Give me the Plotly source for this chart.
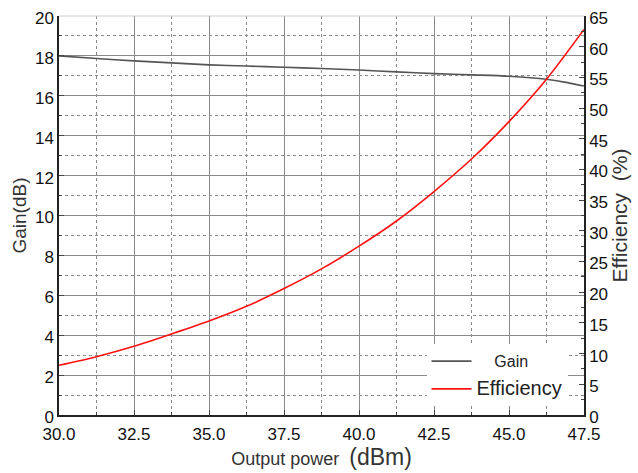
import plotly.graph_objects as go

output_power = [30.0, 31.25, 32.5, 33.75, 35.0, 36.25, 37.5, 38.75, 40.0, 41.25, 42.5, 43.75, 45.0, 46.25, 46.8, 47.5]
gain_db = [18.0, 17.87, 17.75, 17.65, 17.55, 17.49, 17.43, 17.37, 17.29, 17.2, 17.11, 17.05, 16.98, 16.83, 16.7, 16.49]

eff_power = [30.0, 31.25, 32.5, 33.75, 35.0, 36.25, 37.5, 38.75, 40.0, 41.25, 42.5, 43.75, 45.0, 46.25, 47.5]
efficiency_pct = [8.1, 9.5, 11.2, 13.2, 15.3, 17.7, 20.6, 23.8, 27.5, 31.6, 36.4, 41.7, 47.8, 54.7, 62.8]

x_ticks = [30.0, 32.5, 35.0, 37.5, 40.0, 42.5, 45.0, 47.5]
x_tick_labels = ["30.0", "32.5", "35.0", "37.5", "40.0", "42.5", "45.0", "47.5"]

FONT = "Liberation Sans"

fig = go.Figure()
fig.add_trace(go.Scatter(
    x=output_power, y=gain_db, mode="lines",
    name="&nbsp;&nbsp;&nbsp;&nbsp;Gain", legendgroup="gain",
    line=dict(color="#555555", width=1.6, shape="spline", smoothing=0.8),
))
fig.add_trace(go.Scatter(
    x=eff_power, y=efficiency_pct, mode="lines",
    name='<span style="font-size:20px">Efficiency</span>', legendgroup="eff",
    line=dict(color="#ff1010", width=1.6, shape="spline", smoothing=0.8),
    yaxis="y2",
))

fig.update_layout(
    width=638, height=473,
    margin=dict(l=59, r=54, t=16, b=58, autoexpand=False),
    paper_bgcolor="white", plot_bgcolor="white",
    font=dict(family=FONT, size=15, color="#111111"),
    showlegend=True,
    legend=dict(
        x=0.70, y=0.022, xanchor="left", yanchor="bottom",
        bgcolor="white", borderwidth=0,
        font=dict(family=FONT, size=16, color="#222222"),
        itemwidth=40, tracegroupgap=4,
    ),
    xaxis=dict(
        range=[30, 47.5], tickvals=x_ticks, ticktext=x_tick_labels,
        automargin=False,
        showline=True, linecolor="#222222", linewidth=1.5, mirror=False,
        ticks="inside", ticklen=5, tickcolor="#444444",
        ticklabelstandoff=3,
        showgrid=True, gridcolor="#8a8a8a", gridwidth=1,
        minor=dict(dtick=1.25, showgrid=True, gridcolor="#8a8a8a",
                   griddash="dot", gridwidth=1, ticks="inside", ticklen=3, tickcolor="#444444"),
        zeroline=False,
        tickfont=dict(family=FONT, size=17, color="#111111"),
        title=dict(text='Output power  <span style="font-size:23px">(dBm)</span>',
                   font=dict(family=FONT, size=18, color="#333333"), standoff=3),
    ),
    yaxis=dict(
        range=[0, 20], dtick=2,
        automargin=False,
        showline=True, linecolor="#222222", linewidth=1.5,
        ticks="inside", ticklen=5, tickcolor="#444444",
        ticklabelshift=2,
        showgrid=True, gridcolor="#8a8a8a", gridwidth=1,
        minor=dict(dtick=1, showgrid=True, gridcolor="#8a8a8a",
                   griddash="dot", gridwidth=1, ticks="inside", ticklen=3, tickcolor="#444444"),
        zeroline=False,
        tickfont=dict(family=FONT, size=17, color="#111111"),
        title=dict(text="Gain(dB)", font=dict(family=FONT, size=19, color="#333333"), standoff=3),
    ),
    yaxis2=dict(
        range=[0, 65], dtick=5, overlaying="y", side="right",
        automargin=False,
        showline=True, linecolor="#222222", linewidth=1.5,
        ticks="inside", ticklen=5, tickcolor="#444444",
        ticklabelshift=2,
        minor=dict(dtick=2.5, ticks="inside", ticklen=3, tickcolor="#444444"),
        showgrid=False, zeroline=False,
        tickfont=dict(family=FONT, size=17, color="#111111"),
        title=dict(text="Efficiency  (%)", font=dict(family=FONT, size=21, color="#333333"), standoff=1),
    ),
)

# light top border of the plot frame
fig.add_shape(type="line", xref="paper", yref="paper", x0=0, x1=1, y0=1, y1=1,
              line=dict(color="#cccccc", width=1))

fig.write_html("out.html", config={"displayModeBar": False},
               post_script="document.body.style.margin='0';")
